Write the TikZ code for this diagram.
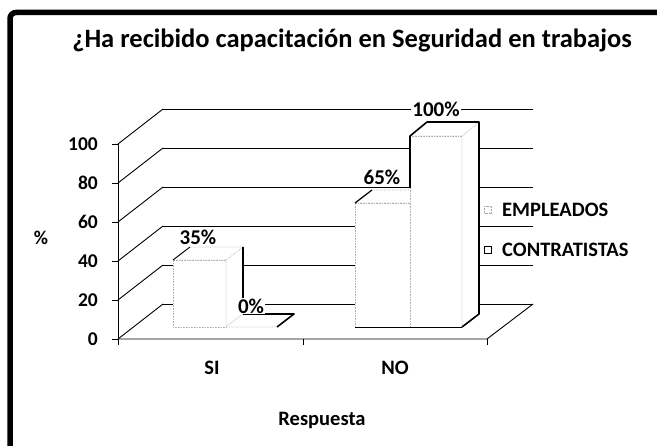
\documentclass[tikz,border=0pt]{standalone}
\usepackage{fontspec}
\setmainfont{Carlito}
\begin{document}
\begin{tikzpicture}[x=1pt,y=-1pt,
  grid/.style={black,line width=0.9pt},
  barface/.style={fill=white,draw=gray!60,line width=0.6pt,densely dotted},
  barout/.style={black,line width=1.6pt,line join=round},
  lbl/.style={font=\bfseries\fontsize{20.5}{20.5}\selectfont,inner sep=1pt},
  axl/.style={font=\bfseries\fontsize{19.5}{19.5}\selectfont,inner sep=1pt},
  val/.style={font=\bfseries\fontsize{21}{21}\selectfont,inner sep=1pt,fill=white},
  legmark/.style={draw=gray!70,densely dotted,fill=white,minimum size=7pt,inner sep=0pt}]
\useasboundingbox (0,0) rectangle (657,446);
% frame
\draw[line width=5.5pt,rounded corners=6pt] (10,12.5) -- (760,12.5) -- (760,560) -- (10,560) -- cycle;
% title
\node[font=\bfseries\fontsize{26.5}{26.5}\selectfont] (title) at (352,40) {¿Ha recibido capacitación en Seguridad en trabajos};
% back wall gridlines
\foreach \y in {109,148,187,226,265,304} \draw[grid] (163,\y) -- (533,\y);
% side wall diagonals
\foreach \y in {144,183,222,261,300,339} \draw[grid] (118,\y) -- (163,\y-35);
% floor
\draw[grid] (118,339) -- (487,339) -- (533,304);
% y axis and ticks
\draw[grid] (118,144) -- (118,339);
\foreach \y in {144,183,222,261,300,339} \draw[grid] (112,\y) -- (118,\y);
\foreach \x in {118,303,487} \draw[grid] (\x,339) -- (\x,345);
% y labels
\node[axl,anchor=east] (y0) at (99,339) {0};
\node[axl,anchor=east] (y20) at (99,300) {20};
\node[axl,anchor=east] (y40) at (99,261) {40};
\node[axl,anchor=east] (y60) at (99,222) {60};
\node[axl,anchor=east] (y80) at (99,183) {80};
\node[axl,anchor=east] (y100) at (99,144) {100};
\node[axl] (ytitle) at (41,238) {\%};
% SI empleados
\draw[barface] (173,327) -- (226,327) -- (226,260) -- (173,260) -- cycle;
\draw[barface] (226,327) -- (243,314) -- (243,247) -- (226,260) -- cycle;
\draw[barface] (173,260) -- (190,247) -- (243,247) -- (226,260) -- cycle;
\draw[black,line width=0.9pt] (173,260) -- (190,247);
\draw[black,line width=1.2pt] (243,247) -- (243,300);
% SI contratistas (0)
\draw[barface] (226,327) -- (277,327) -- (294,314) -- (243,314) -- cycle;
\draw[barout] (243,314) -- (294,314) -- (277,327);
% NO empleados
\draw[barface] (355,327) -- (410,327) -- (410,203) -- (355,203) -- cycle;
\draw[barface] (355,203) -- (372,190) -- (427,190) -- (410,203) -- cycle;
\draw[black,line width=1.2pt] (355,203) -- (372,190);
% NO contratistas
\draw[barface] (410,327) -- (462,327) -- (462,136) -- (410,136) -- cycle;
\draw[barface] (462,327) -- (479,314) -- (479,122) -- (462,136) -- cycle;
\draw[barface] (410,136) -- (427,122) -- (479,122) -- (462,136) -- cycle;
\draw[barout] (410,188) -- (410,136) -- (427,122) -- (479,122) -- (479,314) -- (462,327);
\draw[black,line width=0.8pt] (355,327) -- (462,327);
% value labels
\node[val] (v35) at (198,237) {35\%};
\node[val] (v0) at (251,306) {0\%};
\node[val] (v65) at (382,177) {65\%};
\node[val] (v100) at (436,109) {100\%};
% x labels
\node[lbl] (xsi) at (212,368) {SI};
\node[lbl] (xno) at (395,368) {NO};
\node[lbl] (xtitle) at (322,420) {Respuesta};
% legend
\node[legmark] (m1) at (488,210) {};
\node[legmark,draw=black,solid,line width=0.8pt] (m2) at (488,250) {};
\node[lbl,anchor=west] (l1) at (501,210) {EMPLEADOS};
\node[lbl,anchor=west] (l2) at (501,250) {CONTRATISTAS};
\end{tikzpicture}
\end{document}
